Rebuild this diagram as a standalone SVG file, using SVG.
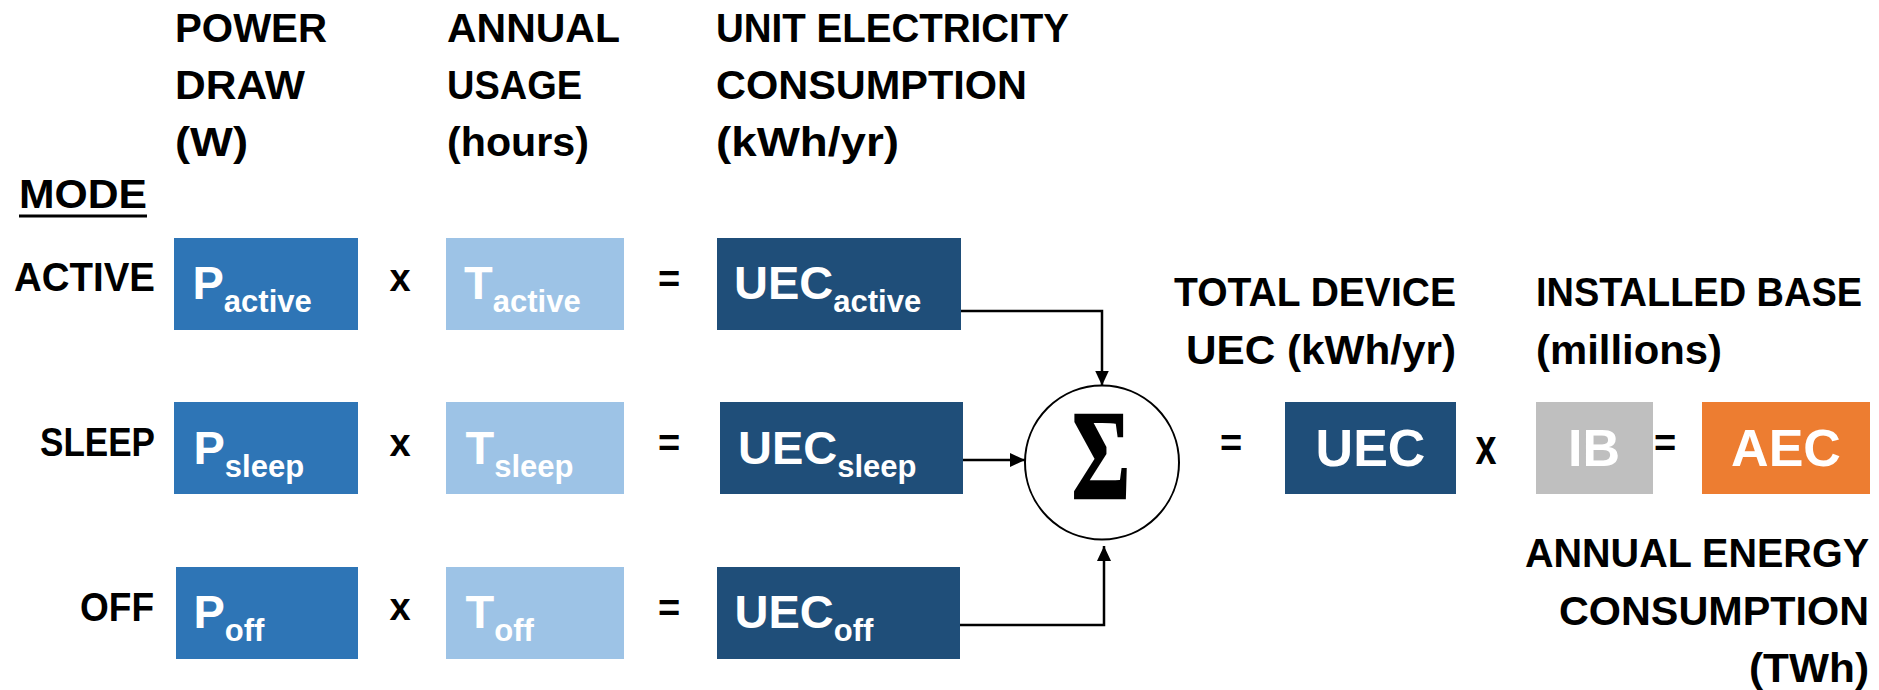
<svg xmlns="http://www.w3.org/2000/svg" width="1879" height="690" viewBox="0 0 1879 690">
<style>
.h{font-family:"Liberation Sans",Arial,sans-serif;font-weight:bold;font-size:40px;fill:#000}
.op{font-family:"Liberation Sans",Arial,sans-serif;font-weight:bold;font-size:38px;fill:#000;text-anchor:middle}
.bt{font-family:"Liberation Sans",Arial,sans-serif;font-weight:bold;font-size:47px;fill:#fff}
.sb{font-size:31px}
.bc{font-family:"Liberation Sans",Arial,sans-serif;font-weight:bold;font-size:52px;fill:#fff;text-anchor:middle}
.p{fill:#2E75B6}.t{fill:#9DC3E6}.u{fill:#1F4E79}.ib{fill:#BFBFBF}.aec{fill:#ED7D31}
.c{fill:none;stroke:#000;stroke-width:2.5}
.sig{font-family:"Liberation Serif","Times New Roman",serif;font-weight:bold;font-size:128px;fill:#000;stroke:#000;stroke-width:2.5;text-anchor:middle}
</style>
<defs>
<marker id="ah" markerUnits="userSpaceOnUse" markerWidth="15" markerHeight="14" viewBox="0 0 15 14" refX="15" refY="7" orient="auto">
<path d="M0,0 L15,7 L0,14 z" fill="#000"/>
</marker>
</defs>
<g id="headers">
<text class="h" x="175" y="42" textLength="152" lengthAdjust="spacingAndGlyphs">POWER</text>
<text class="h" x="175" y="99" textLength="130" lengthAdjust="spacingAndGlyphs">DRAW</text>
<text class="h" x="175" y="156" textLength="73" lengthAdjust="spacingAndGlyphs">(W)</text>
<text class="h" x="447" y="42" textLength="173" lengthAdjust="spacingAndGlyphs">ANNUAL</text>
<text class="h" x="447" y="99" textLength="135" lengthAdjust="spacingAndGlyphs">USAGE</text>
<text class="h" x="447" y="156" textLength="142" lengthAdjust="spacingAndGlyphs">(hours)</text>
<text class="h" x="716" y="42" textLength="353" lengthAdjust="spacingAndGlyphs">UNIT ELECTRICITY</text>
<text class="h" x="716" y="99" textLength="311" lengthAdjust="spacingAndGlyphs">CONSUMPTION</text>
<text class="h" x="716" y="156" textLength="183" lengthAdjust="spacingAndGlyphs">(kWh/yr)</text>
<text class="h" x="19" y="208" textLength="128" lengthAdjust="spacingAndGlyphs">MODE</text>
<rect x="19" y="214.5" width="128" height="3" fill="#000"/>
<text class="h" x="14" y="291" textLength="141" lengthAdjust="spacingAndGlyphs">ACTIVE</text>
<text class="h" x="40" y="456" textLength="115" lengthAdjust="spacingAndGlyphs">SLEEP</text>
<text class="h" x="80" y="621" textLength="74" lengthAdjust="spacingAndGlyphs">OFF</text>
<text class="h" x="1174" y="306" textLength="282" lengthAdjust="spacingAndGlyphs">TOTAL DEVICE</text>
<text class="h" x="1186" y="364" textLength="270" lengthAdjust="spacingAndGlyphs">UEC (kWh/yr)</text>
<text class="h" x="1536" y="306" textLength="326" lengthAdjust="spacingAndGlyphs">INSTALLED BASE</text>
<text class="h" x="1536" y="364" textLength="186" lengthAdjust="spacingAndGlyphs">(millions)</text>
<text class="h" x="1525" y="567" textLength="344" lengthAdjust="spacingAndGlyphs">ANNUAL ENERGY</text>
<text class="h" x="1559" y="625" textLength="310" lengthAdjust="spacingAndGlyphs">CONSUMPTION</text>
<text class="h" x="1749" y="682" textLength="120" lengthAdjust="spacingAndGlyphs">(TWh)</text>
</g>
<g id="operators">
<text class="op" x="400" y="291">x</text>
<text class="op" x="669" y="292">=</text>
<text class="op" x="400" y="456">x</text>
<text class="op" x="669" y="456">=</text>
<text class="op" x="400" y="620">x</text>
<text class="op" x="669" y="621">=</text>
<text class="op" x="1231" y="456">=</text>
<text class="op" x="1486" y="464" style="font-size:50px" textLength="21" lengthAdjust="spacingAndGlyphs">x</text>
<text class="op" x="1665" y="456">=</text>
</g>
<g id="connectors">
<path class="c" d="M961,311 H1102 V385.5" marker-end="url(#ah)"/>
<path class="c" d="M963,460 H1025" marker-end="url(#ah)"/>
<path class="c" d="M960,625 H1104 V546" marker-end="url(#ah)"/>
</g>
<g id="p-active"><rect class="p" x="174" y="238" width="184" height="92"/><text class="bt" x="192.5" y="299">P<tspan class="sb" dy="13">active</tspan></text></g>
<g id="t-active"><rect class="t" x="446" y="238" width="178" height="92"/><text class="bt" x="464" y="299">T<tspan class="sb" dy="13">active</tspan></text></g>
<g id="uec-active"><rect class="u" x="717" y="238" width="244" height="92"/><text class="bt" x="734" y="299">UEC<tspan class="sb" dy="13">active</tspan></text></g>
<g id="p-sleep"><rect class="p" x="174" y="402" width="184" height="92"/><text class="bt" x="193.5" y="464">P<tspan class="sb" dy="13">sleep</tspan></text></g>
<g id="t-sleep"><rect class="t" x="446" y="402" width="178" height="92"/><text class="bt" x="465.5" y="464">T<tspan class="sb" dy="13">sleep</tspan></text></g>
<g id="uec-sleep"><rect class="u" x="720" y="402" width="243" height="92"/><text class="bt" x="738" y="464">UEC<tspan class="sb" dy="13">sleep</tspan></text></g>
<g id="p-off"><rect class="p" x="176" y="567" width="182" height="92"/><text class="bt" x="193.5" y="628">P<tspan class="sb" dy="13">off</tspan></text></g>
<g id="t-off"><rect class="t" x="446" y="567" width="178" height="92"/><text class="bt" x="465.5" y="628">T<tspan class="sb" dy="13">off</tspan></text></g>
<g id="uec-off"><rect class="u" x="717" y="567" width="243" height="92"/><text class="bt" x="734.5" y="628">UEC<tspan class="sb" dy="13">off</tspan></text></g>
<g id="sum"><circle cx="1102" cy="462.5" r="77" fill="#fff" stroke="#000" stroke-width="2"/><text class="sig" x="1101" y="498" textLength="58" lengthAdjust="spacingAndGlyphs">Σ</text></g>
<g id="uec-total"><rect class="u" x="1285" y="402" width="171" height="92"/><text class="bc" x="1370.5" y="466">UEC</text></g>
<g id="ib"><rect class="ib" x="1536" y="402" width="117" height="92"/><text class="bc" x="1594" y="466">IB</text></g>
<g id="aec"><rect class="aec" x="1702" y="402" width="168" height="92"/><text class="bc" x="1786" y="466">AEC</text></g>
</svg>
